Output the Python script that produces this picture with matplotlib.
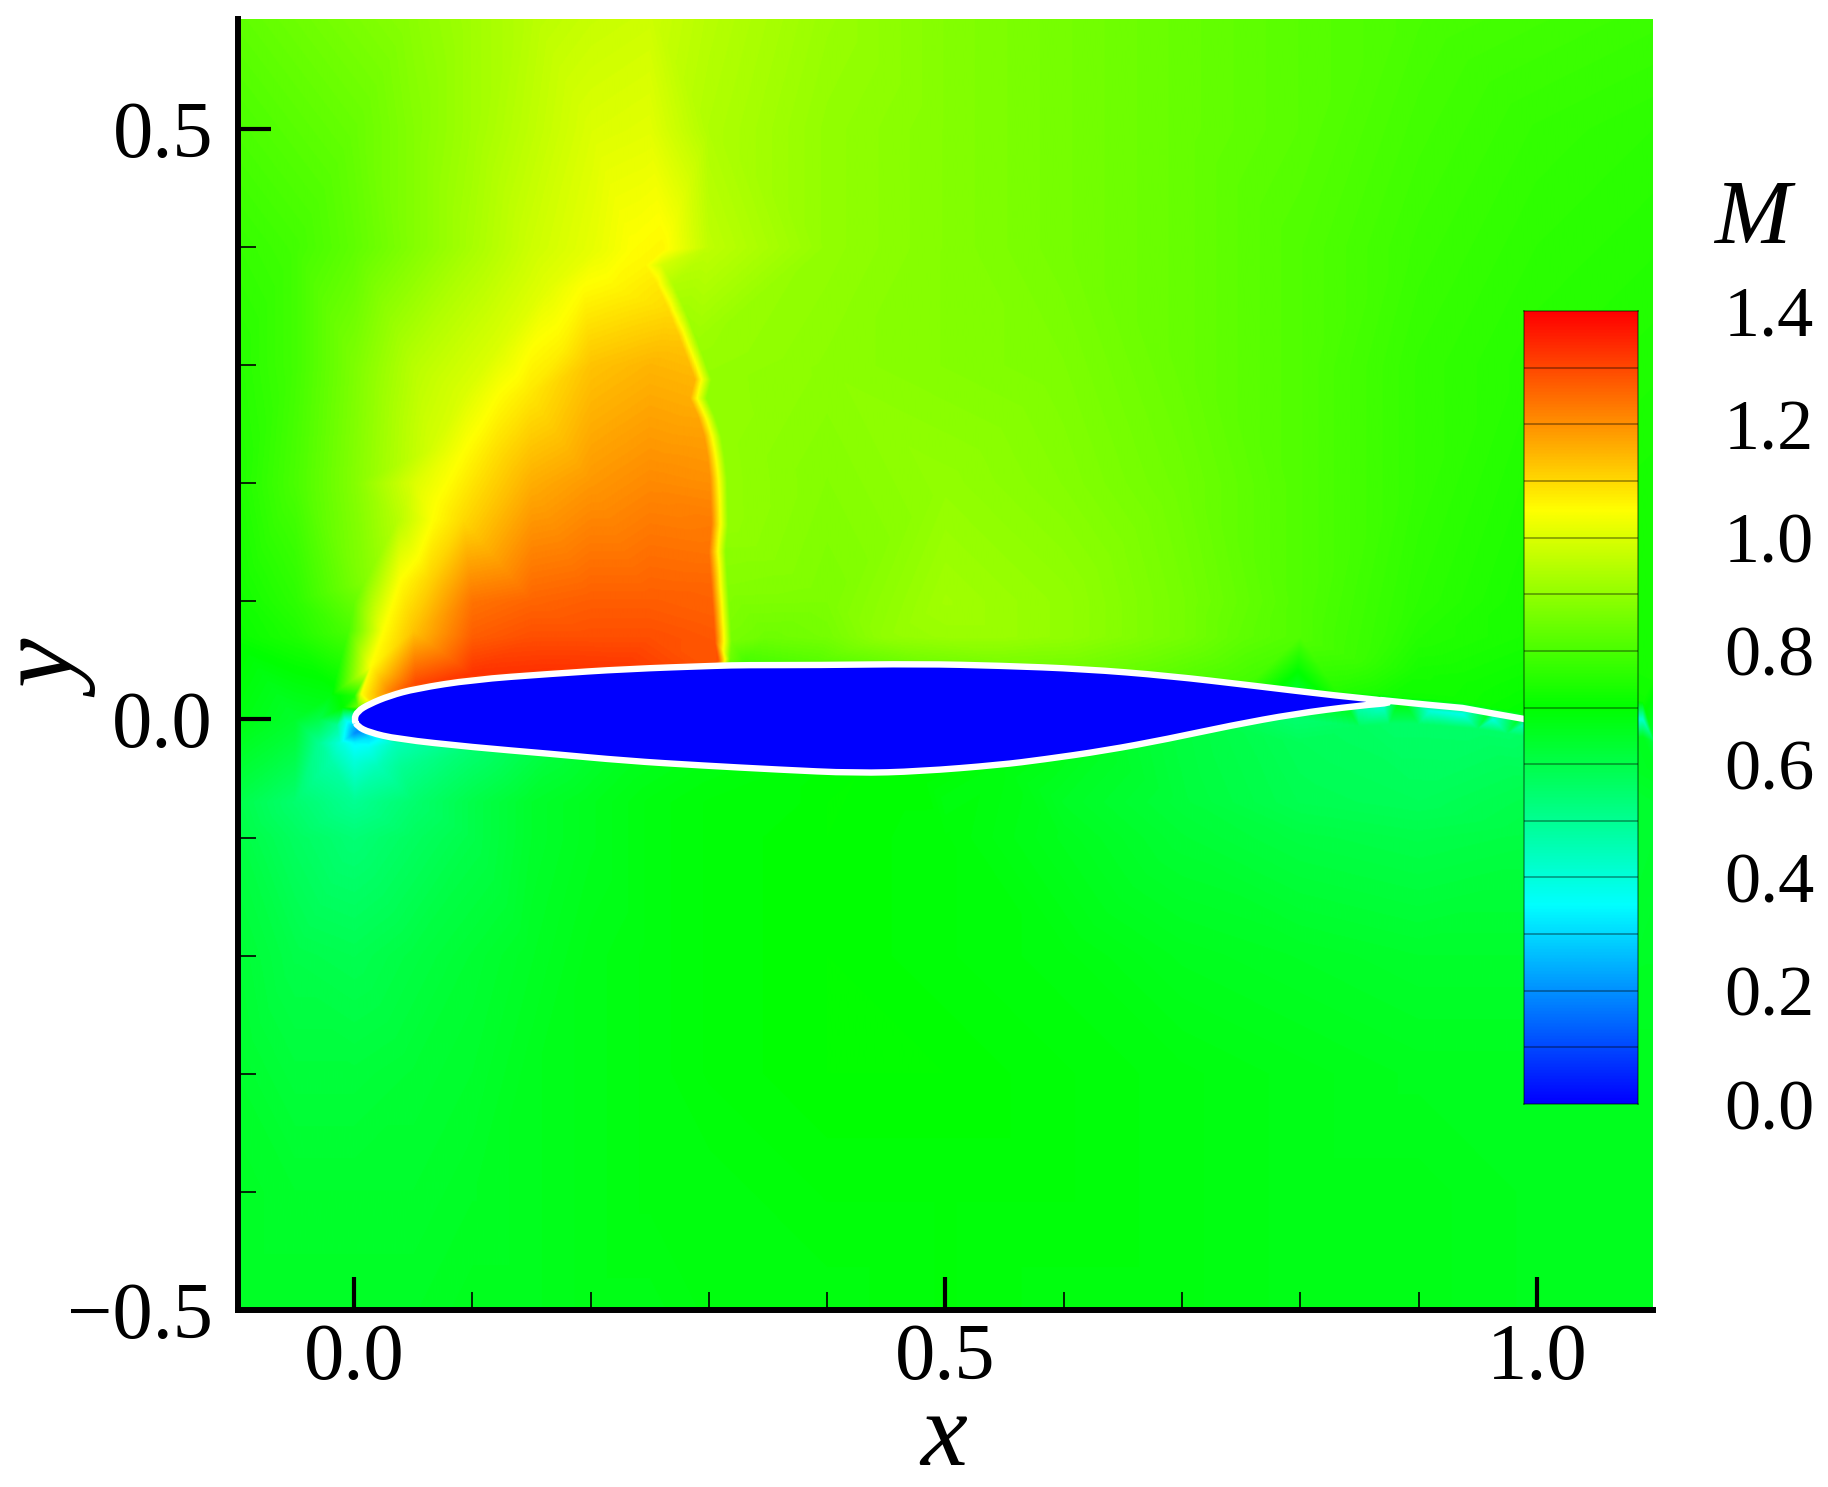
import numpy as np
import matplotlib
matplotlib.use("Agg")
import matplotlib.pyplot as plt
from matplotlib.colors import LinearSegmentedColormap
from matplotlib.patches import PathPatch
from matplotlib.path import Path
from matplotlib.ticker import MultipleLocator
import matplotlib.tri as mtri

plt.rcParams['font.family'] = ['Liberation Serif', 'DejaVu Serif']
plt.rcParams['mathtext.fontset'] = 'custom'
plt.rcParams['mathtext.it'] = 'Liberation Serif:italic'
plt.rcParams['mathtext.rm'] = 'Liberation Serif'

# background Mach number read on a coarse grid
grid_x = [-0.1, -0.05, 0.0, 0.05, 0.1, 0.15, 0.2, 0.25, 0.3, 0.4, 0.5, 0.6, 0.7, 0.8, 0.9, 1.0, 1.1]
grid_y = [0.6, 0.5, 0.4, 0.3, 0.2, 0.1, 0.07, -0.07, -0.1, -0.2, -0.3, -0.4, -0.5]
grid_mach = [
    [.83, .85, .87, .89, .92, .95, .97, .98, .95, .91, .88, .86, .84, .82, .80, .79, .78],
    [.80, .82, .84, .88, .92, .96, 1.0, 1.01, .94, .90, .88, .86, .84, .82, .79, .77, .76],
    [.77, .79, .83, .88, .93, .98, 1.03, 1.05, .96, .90, .88, .86, .84, .81, .78, .76, .75],
    [.75, .79, .87, .95, 1.02, 1.09, 1.13, 1.15, .90, .89, .88, .87, .84, .81, .77, .75, .74],
    [.74, .80, .88, 1.0, 1.12, 1.16, 1.19, 1.21, 1.22, .88, .90, .88, .85, .81, .77, .74, .73],
    [.72, .76, .84, 1.10, 1.24, 1.26, 1.27, 1.27, 1.27, .87, .92, .90, .86, .81, .76, .73, .73],
    [.71, .74, .80, 1.20, 1.27, 1.29, 1.29, 1.29, 1.28, .86, .91, .90, .86, .81, .75, .73, .73],
    [.60, .55, .50, .55, .60, .64, .66, .68, .69, .70, .68, .65, .62, .59, .58, .60, .64],
    [.61, .57, .54, .57, .60, .64, .66, .68, .69, .70, .69, .66, .63, .61, .60, .61, .64],
    [.63, .60, .59, .61, .63, .65, .67, .68, .69, .70, .69, .68, .66, .65, .64, .64, .65],
    [.64, .62, .62, .63, .64, .66, .67, .68, .69, .70, .70, .69, .68, .67, .66, .66, .66],
    [.65, .64, .64, .64, .65, .66, .67, .68, .68, .69, .69, .69, .68, .67, .67, .66, .66],
    [.65, .65, .65, .65, .66, .66, .67, .67, .68, .68, .69, .68, .68, .67, .67, .66, .66],
]

# shock: position, Mach just ahead and just behind
shock_x = [.253, .263, .273, .284, .295, .291, .298, .303, .306, .308, .309, .307, .309, .311, .312, .311, .310]
shock_y = [.385, .368, .346, .318, .288, .272, .256, .240, .222, .204, .165, .142, .112, .084, .066, .052, .046]
shock_up = [1.06, 1.08, 1.10, 1.13, 1.15, 1.16, 1.17, 1.18, 1.19, 1.20, 1.23, 1.24, 1.26, 1.27, 1.28, 1.28, 1.28]
shock_down = [.99, .94, .92, .91, .90, .90, .90, .90, .90, .90, .90, .89, .88, .87, .86, .85, .84]

# yellow ridge leaving the leading edge, with readings either side of it
fan_x = [.006, .014, .025, .039, .067, .095, .123, .151, .194, .236]
fan_y = [.022, .045, .075, .117, .169, .229, .275, .314, .366, .398]
fan_in_m = [1.14, 1.14, 1.13, 1.11, 1.10, 1.09, 1.08, 1.07, 1.06, 1.06]
fan_out_m = [.80, .85, .80, .88, .95, .99, 1.0, 1.0, 1.01, 1.02]

# airfoil outline and Mach number read just outside it
upper_x = [0.0, .003, .013, .03, .052, .10, .165, .23, .308, .33, .392, .478, .546, .617, .688, .76, .831, .885]
upper_y = [0.0, .007, .013, .02, .026, .0336, .0385, .0427, .0455, .046, .046, .047, .0455, .0427, .037, .0286, .020, .0147]
upper_m = [.50, .85, 1.10, 1.22, 1.30, 1.33, 1.33, 1.32, 1.29, .80, .82, .86, .87, .86, .83, .79, .75, .72]
lower_x = [.003, .013, .036, .10, .165, .23, .294, .359, .424, .478, .546, .582, .635, .688, .741, .795, .849]
lower_y = [-.006, -.011, -.0165, -.0235, -.029, -.035, -.039, -.0425, -.0455, -.044, -.0385, -.034, -.0264, -.0165, -.0052, .0047, .0117]
lower_m = [.18, .30, .45, .55, .62, .66, .68, .69, .70, .70, .68, .67, .65, .62, .60, .55, .48]
tail_x = [.87, .91, .937, .963, .989]
tail_y = [.0162, .0122, .0097, .005, .0004]
tail_above = [.73, .72, .72, .71, .70]
tail_below = [.42, .40, .38, .40, .45]

# extra readings around the leading edge and wake
extra_x = [-.01, -.02, -.03, -.05, -.1, -.015, -.008, .0, .0, -.012, .012, .0, -.02, .02, .04, -.03,
           .0, 1.09, 1.09, 1.09, 1.1,
           .35, .45, .55, .65, .75, .85, .9, .95, 1.0, 1.1,
           .8, .85, .875, .9, .925, .95, .975, 1.0, 1.1]
extra_y = [.01, .02, .0, .0, .0, -.005, .0, -.012, -.02, -.02, -.024, -.035, -.035, -.04, -.04, -.02,
           .02, .0, .015, -.015, -.04,
           .07, .07, .07, .07, .07, .05, .04, .03, .03, .04,
           -.02, -.006, -.004, -.004, -.006, -.008, -.012, -.016, -.02]
extra_m = [.70, .68, .60, .64, .68, .50, .40, .20, .34, .40, .37, .40, .47, .45, .50, .50,
           .74, .42, .72, .66, .66,
           .85, .90, .91, .88, .83, .78, .73, .72, .71, .73,
           .58, .57, .56, .56, .56, .56, .56, .57, .62]

cbar_levels = [0.0, 0.1, 0.2, 0.3, 0.4, 0.5, 0.6, 0.7, 0.8, 0.9, 1.0, 1.1, 1.2, 1.3, 1.4]
cbar_labels = ['0.0', '0.2', '0.4', '0.6', '0.8', '1.0', '1.2', '1.4']

cmap = LinearSegmentedColormap.from_list('small_rainbow', ['#0000ff', '#00ffff', '#00ff00', '#ffff00', '#ff0000'])

W, H = 1828, 1487
fig = plt.figure(figsize=(W / 100, H / 100), dpi=100, facecolor='white')


def px_axes(left, top, right, bottom):
    return fig.add_axes([left / W, 1 - bottom / H, (right - left) / W, (bottom - top) / H])


ax = px_axes(238, 19, 1653, 1310)

# collect scattered Mach samples, dropping grid points right on the sharp features
shock_x = np.array(shock_x)
shock_y = np.array(shock_y)
fan_x = np.array(fan_x)
fan_y = np.array(fan_y)
gx, gy = np.meshgrid(grid_x, grid_y)
gx, gy, gm = gx.ravel(), gy.ravel(), np.array(grid_mach).ravel()
keep = np.ones(gx.size, dtype=bool)
for sx, sy in zip(shock_x, shock_y):
    keep &= np.hypot(gx - sx, gy - sy) > 0.025
for sx, sy in zip(fan_x, fan_y):
    keep &= np.hypot(gx - sx, gy - sy) > 0.035

px = np.concatenate([gx[keep], shock_x - 0.007, shock_x + 0.007, fan_x, fan_x[2:] + .025, fan_x[2:] - .03,
                     upper_x, lower_x, tail_x, tail_x, extra_x])
py = np.concatenate([gy[keep], shock_y, shock_y, fan_y, fan_y[2:], fan_y[2:],
                     np.array(upper_y) + .004, np.array(lower_y) - .004,
                     np.array(tail_y) + .005, np.array(tail_y) - .005, extra_y])
pm = np.concatenate([gm[keep], shock_up, shock_down, np.full(len(fan_x), 1.05), fan_in_m[2:], fan_out_m[2:],
                     upper_m, lower_m, tail_above, tail_below, extra_m])

tri = mtri.Triangulation(px, py)
interp = mtri.LinearTriInterpolator(tri, pm)
xi = np.linspace(-0.1, 1.1, 1400)
yi = np.linspace(-0.5, 0.6, 1300)
zi = interp(*np.meshgrid(xi, yi))
ax.imshow(zi, extent=[-0.1, 1.1, -0.5, 0.6], origin='lower', cmap=cmap, vmin=0, vmax=1.4,
          interpolation='bilinear', aspect='auto', zorder=1)

# airfoil on top, outline smoothed with quadratic segments between the read points
ctrl = np.column_stack([np.concatenate([upper_x, lower_x[::-1]]),
                        np.concatenate([upper_y, lower_y[::-1]])])
mids = (ctrl + np.roll(ctrl, -1, axis=0)) / 2
verts = [mids[-1]]
codes = [Path.MOVETO]
for c, m in zip(ctrl, mids):
    verts += [c, m]
    codes += [Path.CURVE3, Path.CURVE3]
ax.plot(tail_x, tail_y, color='white', linewidth=4.6, zorder=3)
ax.add_patch(PathPatch(Path(verts, codes), facecolor='#0000ff', edgecolor='white', linewidth=4.6, zorder=3))

ax.set_xlim(-0.098, 1.098)
ax.set_ylim(-0.5, 0.593)
for side in ['top', 'right']:
    ax.spines[side].set_visible(False)
for side in ['left', 'bottom']:
    ax.spines[side].set_linewidth(4.3)
    ax.spines[side].set_zorder(6)

ax.xaxis.set_minor_locator(MultipleLocator(0.1))
ax.yaxis.set_minor_locator(MultipleLocator(0.1))
ax.set_xticks([0.0, 0.5, 1.0])
ax.set_xticklabels(['0.0', '0.5', '1.0'])
ax.set_yticks([-0.5, 0.0, 0.5])
ax.set_yticklabels(['\u22120.5', '0.0', '0.5'])
ax.tick_params(which='major', direction='in', length=24, width=3, labelsize=58)
ax.tick_params(axis='y', which='major', pad=18)
ax.tick_params(axis='x', which='major', pad=9)
ax.tick_params(which='minor', direction='in', length=13, width=1.2)

fig.text(944 / W, 1 - 1440 / H, '$x$', fontsize=76, ha='center', va='center')
fig.text(48 / W, 1 - 667 / H, '$y$', fontsize=80, ha='center', va='center', rotation=90)
fig.text(1755 / W, 1 - 221 / H, '$M$', fontsize=66, ha='center', va='center')

# contour legend
cax = px_axes(1524, 311, 1638, 1104)
gradient = np.linspace(0, 1.4, 512).reshape(-1, 1)
cax.imshow(gradient, extent=[0, 1, 0, 1.4], origin='lower', cmap=cmap, vmin=0, vmax=1.4, aspect='auto')
cax.hlines(cbar_levels[1:-1], 0, 1, color='black', alpha=0.4, linewidth=1.2)
cax.set_xticks([])
cax.set_yticks(cbar_levels[::2])
cax.set_yticklabels(cbar_labels)
cax.yaxis.tick_right()
cax.tick_params(axis='y', length=0, labelsize=52, pad=62)
for spine in cax.spines.values():
    spine.set_color('black')
    spine.set_alpha(0.4)
    spine.set_linewidth(1.2)

fig.savefig('out.png', dpi=100)
